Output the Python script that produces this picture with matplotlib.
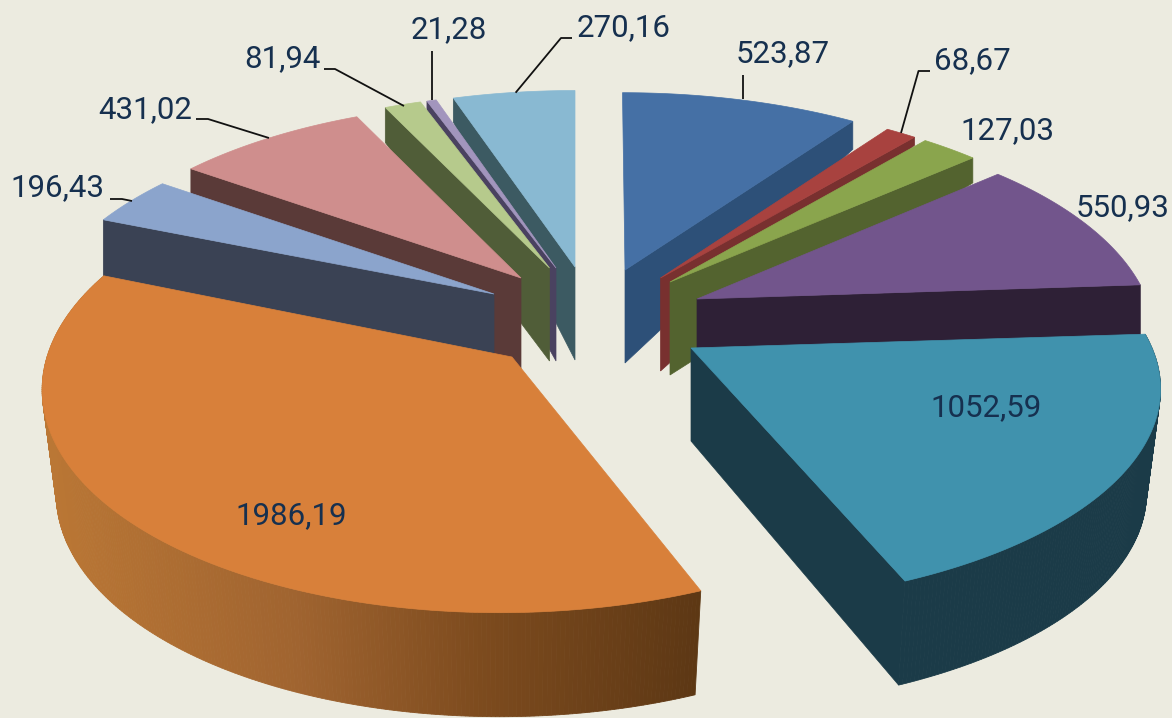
import numpy as np
import matplotlib
matplotlib.use("Agg")
import matplotlib.pyplot as plt
from matplotlib.colors import to_rgb

# ---- data ----
values = [523.87, 68.67, 127.03, 550.93, 1052.59, 1986.19, 196.43, 431.02, 81.94, 21.28, 270.16]
top_colors = ["#4570a5", "#a8423f", "#8aa54d", "#72558c", "#4092ad", "#d8803a",
              "#8ba4cc", "#cf8e8d", "#b6ca8c", "#a295bd", "#89b9d2"]
wall_colors = ["#2d5078", "#78302f", "#53632f", "#2e2036", "#1b3b48", "#b87530",
               "#3a4254", "#5a3a38", "#505d38", "#4a4260", "#3c5a62"]

# ---- layout of the exploded pie (pixels of the 1172x718 canvas) ----
apex_x = [625, 660.5, 670, 697, 691, 512, 494, 521, 549.5, 556, 575]
apex_y = [270, 278, 282, 299, 348, 357, 294, 278, 268, 268, 267]
radius_x = [457, 451, 453, 450, 461, 465, 452, 450, 450, 450, 457]
radius_y = [211, 211, 212, 213, 208, 225, 211, 209, 208, 209, 210]
persp = [.19, .19, .19, .19, .19, .12, .19, .19, .19, .19, .19]
skew = [3, 0, 0, 0, 0, -11, 0, 0, 0, 0, 0]
rim_depth = [28, 8, 25, 60, 104, 0, 70, 35, 35, 30, 24]
wall_at_end = [True, True, True, True, True, None, False, False, False, False, False]
APEX_DEPTH = 93
OUTER_DEPTH = 104
CONVERGE = 0.03
label_xy = [(783, 54), (972, 61), (1007, 131), (1123, 208), (986, 408), (291, 516),
            (57, 188), (145, 110), (282, 59), (449, 30), (624, 28)]
leaders = [[(743, 75), (743, 99)],
           [(930, 71), (918.5, 71), (901, 133)],
           None, None, None, None,
           [(110, 199), (122, 199), (132, 201)],
           [(196, 119), (208, 119), (269, 138)],
           [(324, 69), (335, 69), (404, 106)],
           [(432, 51), (432, 100)],
           [(572, 38), (561, 38), (515.6, 92.7)]]
draw_order = [10, 9, 8, 7, 6, 5, 0, 1, 2, 3, 4]
orange_grad_x = [40, 300, 480, 700]
orange_grad_c = ["#bc7835", "#a06430", "#7d4b1e", "#5c3714"]

BG = "#ecebe0"
TXT = "#16304f"
plt.rcParams["font.family"] = ["Roboto", "DejaVu Sans"]

fig = plt.figure(figsize=(11.72, 7.18), dpi=100, facecolor=BG)
ax = fig.add_axes([0, 0, 1, 1])
ax.set_xlim(0, 1172)
ax.set_ylim(718, 0)
ax.axis("off")

edges = np.concatenate([[0], np.cumsum(values)]) / np.sum(values) * 2 * np.pi


def rim(i, th):
    s = 1 / (1 + persp[i] * np.cos(th))
    x = apex_x[i] + s * (radius_x[i] * np.sin(th) - skew[i] * np.cos(th))
    y = apex_y[i] - s * radius_y[i] * np.cos(th)
    return x, y


orange_rgb = np.array([to_rgb(c) for c in orange_grad_c])

for i in draw_order:
    z = 1 + draw_order.index(i)
    th = np.linspace(edges[i], edges[i + 1], max(8, int((edges[i + 1] - edges[i]) * 120)))
    px, py = rim(i, th)
    qx, qy = px, py + rim_depth[i]

    # outer cylindrical wall (only the two front slices show it)
    if i in (4, 5):
        qx = apex_x[i] + (px - apex_x[i]) * (1 - CONVERGE)
        qy = py + OUTER_DEPTH
        for j in range(len(th) - 1):
            if i == 5:
                xm = (qx[j] + qx[j + 1]) / 2
                col = [np.interp(xm, orange_grad_x, orange_rgb[:, k]) for k in range(3)]
            else:
                col = wall_colors[i]
            ax.fill([px[j], px[j + 1], qx[j + 1], qx[j]], [py[j], py[j + 1], qy[j + 1], qy[j]],
                    color=col, lw=0.6, zorder=z)

    # radial wall
    if wall_at_end[i] is not None:
        e = -1 if wall_at_end[i] else 0
        ax.fill([apex_x[i], px[e], qx[e], apex_x[i]],
                [apex_y[i], py[e], qy[e], apex_y[i] + APEX_DEPTH],
                color=wall_colors[i], lw=0.5, zorder=z)

    # top face
    ax.fill(np.r_[apex_x[i], px], np.r_[apex_y[i], py], color=top_colors[i], lw=0.5, zorder=z)

for i, v in enumerate(values):
    txt = f"{v:.2f}".replace(".", ",")
    ax.text(label_xy[i][0], label_xy[i][1], txt, ha="center", va="center", color=TXT,
            fontsize=22.5, zorder=50)
    if leaders[i] is not None:
        xs, ys = zip(*leaders[i])
        ax.plot(xs, ys, color="#111111", lw=1.3, zorder=40, solid_capstyle="butt")

fig.savefig("out.png", dpi=100, facecolor=BG)
